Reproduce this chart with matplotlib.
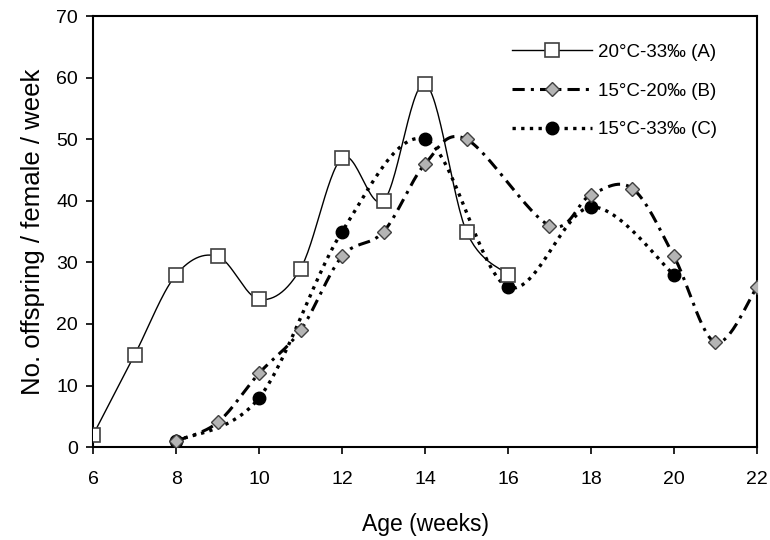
import numpy as np
import matplotlib
matplotlib.use("Agg")
import matplotlib.pyplot as plt

plt.rcParams["font.family"] = ["Liberation Sans", "DejaVu Sans"]

# offspring per female per week
weeks_a = [6, 7, 8, 9, 10, 11, 12, 13, 14, 15, 16]
vals_a = [2, 15, 28, 31, 24, 29, 47, 40, 59, 35, 28]

weeks_b = [8, 9, 10, 11, 12, 13, 14, 15, 17, 18, 19, 20, 21, 22]
vals_b = [1, 4, 12, 19, 31, 35, 46, 50, 36, 41, 42, 31, 17, 26]

weeks_c = [8, 10, 12, 14, 16, 18, 20]
vals_c = [1, 8, 35, 50, 26, 39, 28]

labels = ["20\u00b0C-33\u2030 (A)", "15\u00b0C-20\u2030 (B)", "15\u00b0C-33\u2030 (C)"]


def smooth(xs, ys, n=30):
    # spreadsheet-style smoothed line: bezier with control points from neighbours
    p = np.column_stack([xs, ys]).astype(float)
    out = []
    t = np.linspace(0, 1, n)[:, None]
    for i in range(len(p) - 1):
        p0 = p[i - 1] if i > 0 else p[i]
        p1, p2 = p[i], p[i + 1]
        p3 = p[i + 2] if i + 2 < len(p) else p[i + 1]
        c1 = p1 + (p2 - p0) / 6.0
        c2 = p2 - (p3 - p1) / 6.0
        seg = ((1 - t) ** 3) * p1 + 3 * ((1 - t) ** 2) * t * c1 + 3 * (1 - t) * t ** 2 * c2 + t ** 3 * p2
        out.append(seg if i == 0 else seg[1:])
    seg = np.vstack(out)
    return seg[:, 0], seg[:, 1]


fig = plt.figure(figsize=(7.7, 5.4), dpi=100)
ax = fig.add_axes([0.121, 0.172, 0.862, 0.798])

xa, ya = smooth(weeks_a, vals_a)
xb, yb = smooth(weeks_b, vals_b)
xc, yc = smooth(weeks_c, vals_c)

ax.plot(xc, yc, color="black", lw=2.4, dashes=(1.0, 1.6), zorder=2)
ax.plot(xb, yb, color="black", lw=2.2, dashes=(4, 2, 1, 2), zorder=2)
ax.plot(xa, ya, color="black", lw=1.0, zorder=3)

ax.plot(weeks_c, vals_c, ls="none", marker="o", ms=9, mfc="black", mec="black", zorder=4)
ax.plot(weeks_b, vals_b, ls="none", marker="D", ms=7, mfc="#b4b4b4", mec="#404040", mew=1.0, zorder=4)
ax.plot(weeks_a, vals_a, ls="none", marker="s", ms=9.5, mfc="white", mec="#404040", mew=1.2, zorder=5)

# legend proxies
h_a, = ax.plot([], [], color="black", lw=1.0, marker="s", ms=9.5, mfc="white", mec="#404040", mew=1.2)
h_b, = ax.plot([], [], color="black", lw=2.2, dashes=(4, 2, 1, 2), marker="D", ms=7, mfc="#b4b4b4", mec="#404040")
h_c, = ax.plot([], [], color="black", lw=2.4, dashes=(1.0, 1.6), marker="o", ms=9, mfc="black", mec="black")
ax.legend([h_a, h_b, h_c], labels, loc="upper right", bbox_to_anchor=(0.965, 0.975),
          frameon=False, fontsize=13.5, handlelength=4.3, numpoints=1, labelspacing=1.15,
          handletextpad=0.3)

ax.set_xlim(6, 22)
ax.set_ylim(0, 70)
ax.set_xticks(np.arange(6, 23, 2))
ax.set_yticks(np.arange(0, 71, 10))
ax.tick_params(direction="out", length=5, width=1.2, labelsize=14, pad=6)
ax.tick_params(axis="x", pad=12)
for side in ax.spines.values():
    side.set_linewidth(1.5)

ax.set_xlabel("Age (weeks)", fontsize=16.5, labelpad=18)
ax.set_ylabel("No. offspring / female / week", fontsize=18.5, labelpad=8)

fig.savefig("out.png", dpi=100)
